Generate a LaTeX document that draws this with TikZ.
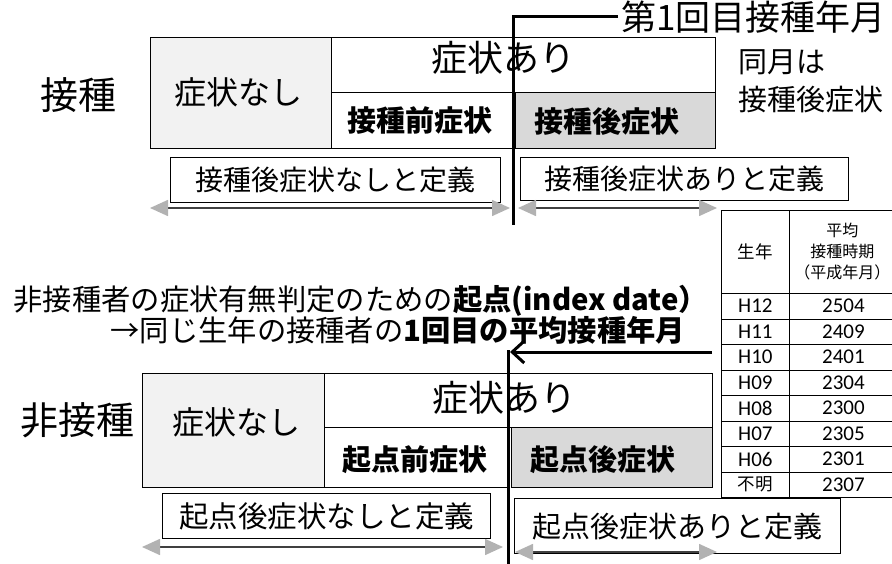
\documentclass[tikz,border=0pt]{standalone}
\usepackage{fontspec}
\setmainfont{Noto Sans CJK JP}
\newfontfamily\tabfont{Carlito}
\usetikzlibrary{arrows.meta}
\newcommand{\fsz}[1]{\fontsize{#1}{#1}\selectfont}

\begin{document}
\begin{tikzpicture}
    [
    x=1pt, y=-1pt,
    box/.style={draw, line width=1.3pt, anchor=north west, inner sep=0pt},
    nosym/.style={fill=gray!10},
    postfill/.style={fill=gray!30},
    big/.style={font=\fsz{36}},
    bold/.style={font=\fsz{29}\bfseries},
    deftext/.style={font=\fsz{28}},
    period/.style={line width=1.6pt, draw=black!75,
      {Triangle[length=18pt,width=16pt,color=gray!60]}-{Triangle[length=18pt,width=16pt,color=gray!60]}},
    datebar/.style={line width=3pt},
    cell/.style={draw, line width=0.8pt, anchor=north west, inner sep=0pt, minimum height=25.5pt},
    num/.style={font=\tabfont\fsz{21}},
    jp/.style={font=\fsz{17.5}}
    ]
    \useasboundingbox (0,0) rectangle (892,564);
    % vaccinated
    \node (vac) at (78,95) [font=\fsz{38}] {接種};
    \node (nasi1) at (150,37) [box,nosym, minimum width=181pt, minimum height=111pt] {};
    \node (ari1) at (331,37) [box, minimum width=384pt, minimum height=55pt] {};
    \node (pre1) at (331,92) [box, minimum width=182pt, minimum height=56pt] {};
    \node (post1) at (515,92) [box,postfill, minimum width=200pt, minimum height=56pt] {};
    \node (nasi1txt) at (238,92) [font=\fsz{32}] {症状なし};
    \node (ari1txt) at (503,58) [big] {症状あり};
    \node (pre1txt) at (420,121) [bold] {接種前症状};
    \node (post1txt) at (607,121) [bold] {接種後症状};
    \node (same) at (735,81) [anchor=west, align=left, font={\fontsize{29}{38}\selectfont}] {同月は\\接種後症状};
    \node (defn1) at (170,157) [box, minimum width=330pt, minimum height=45pt, deftext] {接種後症状なしと定義};
    \node (defa1) at (520,157) [box, minimum width=328pt, minimum height=43pt, deftext] {接種後症状ありと定義};
    \coordinate (n1l) at (150,208);
    \coordinate (n1r) at (510,208);
    \coordinate (a1l) at (518,208);
    \coordinate (a1r) at (717,208);
    \draw [period] (n1l) to (n1r);
    \draw [period] (a1l) to (a1r);
    \node (first) at (618,17) [anchor=west, font=\fsz{35}] {第1回目接種年月};
    \coordinate (firstfoot) at (513,225);
    \draw [datebar] (first.west) -| (firstfoot);
    % index date
    \node (idx1) at (10,301) [anchor=west, font=\fsz{29.3}] {非接種者の症状有無判定のための\textbf{起点(index date）}};
    \node (idx2) at (107,330) [anchor=west, font=\fsz{29.3}] {→同じ生年の接種者の\textbf{1回目の平均接種年月}};
    \coordinate (idxr) at (712,352);
    \coordinate (idxl) at (510,352);
    \coordinate (idxtop) at (508,350);
    \coordinate (idxfoot) at (508,566);
    % unvaccinated
    \node (unvac) at (77,420) [font=\fsz{38}] {非接種};
    \node (nasi2) at (142,373) [box,nosym, minimum width=182pt, minimum height=114pt] {};
    \node (ari2) at (324,373) [box, minimum width=388pt, minimum height=54pt] {};
    \node (pre2) at (324,427) [box, minimum width=184pt, minimum height=60pt] {};
    \node (post2) at (511,427) [box,postfill, minimum width=201pt, minimum height=60pt] {};
    \node (nasi2txt) at (236,422) [font=\fsz{32}] {症状なし};
    \node (ari2txt) at (504,398) [big] {症状あり};
    \node (pre2txt) at (415,460) [bold] {起点前症状};
    \node (post2txt) at (603,460) [bold] {起点後症状};
    \node (defn2) at (162,493) [box, minimum width=328pt, minimum height=45pt, font=\fsz{29.5}] {起点後症状なしと定義};
    \node (defa2) at (514,498) [box, minimum width=326pt, minimum height=55pt, font=\fsz{29}] {起点後症状ありと定義};
    \coordinate (n2l) at (142,547);
    \coordinate (n2r) at (503,547);
    \coordinate (a2l) at (515,552);
    \coordinate (a2r) at (717,552);
    \draw [period] (n2l) to (n2r);
    \draw [period] (a2l) to (a2r);
    \draw [datebar, -{Straight Barb[length=12pt,width=22pt]}] (idxr) to (idxl);
    \draw [datebar] (idxtop) to (idxfoot);
    % table
    \node (hyr) at (721,210) [cell, minimum width=68pt, minimum height=83pt, jp] {生年};
    \node (havg) at (789,210) [cell, minimum width=106pt, minimum height=83pt, align=center, font={\fontsize{16}{21}\selectfont}] {平均\\接種時期\\（平成年月）};
    \node (y1) at (721,293) [cell, minimum width=68pt, num] {H12};
    \node (m1) at (789,293) [cell, minimum width=108pt, num] {2504};
    \node (y2) at (721,318.5) [cell, minimum width=68pt, num] {H11};
    \node (m2) at (789,318.5) [cell, minimum width=108pt, num] {2409};
    \node (y3) at (721,344) [cell, minimum width=68pt, num] {H10};
    \node (m3) at (789,344) [cell, minimum width=108pt, num] {2401};
    \node (y4) at (721,369.5) [cell, minimum width=68pt, num] {H09};
    \node (m4) at (789,369.5) [cell, minimum width=108pt, num] {2304};
    \node (y5) at (721,395) [cell, minimum width=68pt, num] {H08};
    \node (m5) at (789,395) [cell, minimum width=108pt, num] {2300};
    \node (y6) at (721,420.5) [cell, minimum width=68pt, num] {H07};
    \node (m6) at (789,420.5) [cell, minimum width=108pt, num] {2305};
    \node (y7) at (721,446) [cell, minimum width=68pt, num] {H06};
    \node (m7) at (789,446) [cell, minimum width=108pt, num] {2301};
    \node (y8) at (721,471.5) [cell, minimum width=68pt, jp] {不明};
    \node (m8) at (789,471.5) [cell, minimum width=108pt, num] {2307};
  \end{tikzpicture}
\end{document}
